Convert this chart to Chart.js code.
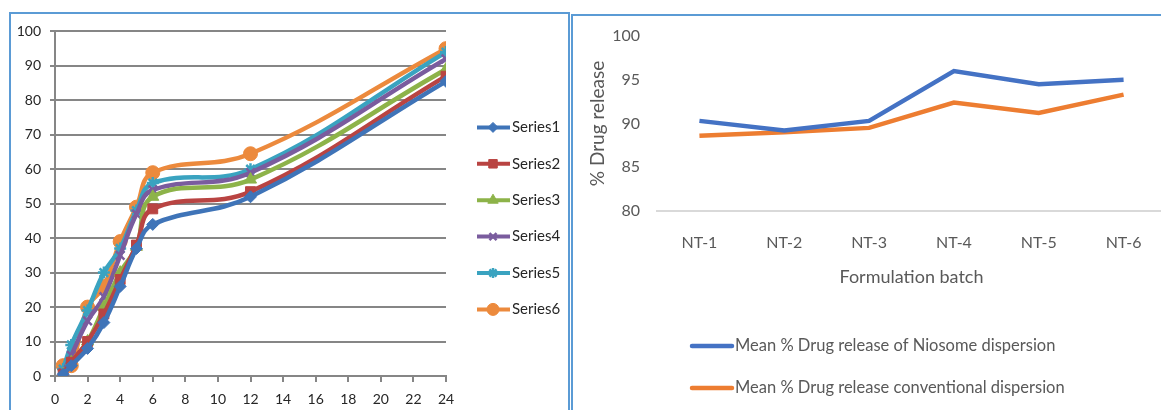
<!DOCTYPE html>
<html>
<head>
<meta charset="utf-8">
<script src="https://cdn.jsdelivr.net/npm/chart.js@4/dist/chart.umd.min.js"></script>
<style>
  body { margin: 0; width: 1161px; height: 410px; overflow: hidden; background: #fff; position: relative; }
  .frame { position: absolute; border: 2px solid #5b9bd5; box-sizing: border-box; }
  #frameL { left: 9px; top: 12px; width: 561px; height: 430px; }
  #frameR { left: 571px; top: 14px; width: 640px; height: 430px; border-right: none; border-bottom: none; }
  canvas { position: absolute; }
  #releaseChart { left: 11px; top: 14px; }
  #batchChart { left: 573px; top: 16px; }
</style>
</head>
<body>
<div class="frame" id="frameL"></div>
<div class="frame" id="frameR"></div>
<canvas id="releaseChart" width="556" height="396"></canvas>
<canvas id="batchChart" width="600" height="394"></canvas>
<script>
// time points (h) and % release for the six series
const times = [0.5, 1, 2, 3, 4, 5, 6, 12, 24];
const series1 = [0.5, 3, 8, 15.5, 26, 37, 44, 52, 85.5];
const series2 = [0.5, 4, 10, 18, 28, 38, 48.5, 53.5, 87];
const series3 = [0.5, 4, 10, 20, 30, 37.5, 52, 57, 89];
const series4 = [1, 6, 16, 23, 35, 47, 54, 59, 92];
const series5 = [2, 9, 19, 30, 37, 48, 56, 60, 94];
const series6 = [3, 3, 20, 26, 39, 49, 59, 64.5, 95];
const seriesNames = ["Series1", "Series2", "Series3", "Series4", "Series5", "Series6"];

// right chart
const batches = ["NT-1", "NT-2", "NT-3", "NT-4", "NT-5", "NT-6"];
const niosome = [90.3, 89.2, 90.3, 96.0, 94.5, 95.0];
const conventional = [88.6, 89.0, 89.5, 92.4, 91.2, 93.3];
const batchLabels = ["Mean % Drug release of Niosome dispersion", "Mean % Drug release conventional dispersion"];

const font = "Lato, 'Open Sans', sans-serif";

const styles = [
  { color: "#3f74b8", shape: "rectRot", r: 6 },
  { color: "#b94442", shape: "rect", r: 7 },
  { color: "#8db349", shape: "triangle", r: 7 },
  { color: "#7a5c9e", shape: "crossRot", r: 6 },
  { color: "#3aa3c0", shape: "star", r: 6 },
  { color: "#ec8a3d", shape: "circle", r: 7 }
];

const allSeries = [series1, series2, series3, series4, series5, series6];

// legend with line + marker, like the office one
const sideLegend = {
  id: "sideLegend",
  afterDraw(chart) {
    const { ctx, chartArea } = chart;
    const x0 = chartArea.right + 31;
    chart.data.datasets.forEach((ds, i) => {
      const y = chartArea.top + 96 + i * 36.4;
      ctx.save();
      ctx.strokeStyle = ds.borderColor;
      ctx.fillStyle = ds.backgroundColor;
      ctx.lineWidth = 4;
      ctx.beginPath();
      ctx.moveTo(x0, y);
      ctx.lineTo(x0 + 33, y);
      ctx.stroke();
      ctx.lineWidth = ds.pointBorderWidth;
      Chart.helpers.drawPoint(ctx, { pointStyle: ds.pointStyle, radius: ds.pointRadius - 1, rotation: 0, borderWidth: ds.pointBorderWidth }, x0 + 16, y);
      ctx.fillStyle = "#262626";
      ctx.font = "15px " + font;
      ctx.textBaseline = "middle";
      ctx.fillText(ds.label, x0 + 35, y);
      ctx.restore();
    });
  }
};

new Chart(document.getElementById("releaseChart"), {
  type: "line",
  data: {
    datasets: allSeries.map((vals, i) => ({
      label: seriesNames[i],
      data: times.map((t, j) => ({ x: t, y: vals[j] })),
      borderColor: styles[i].color,
      backgroundColor: styles[i].color,
      borderWidth: 4.5,
      tension: 0.4,
      pointStyle: styles[i].shape,
      pointRadius: styles[i].r,
      pointBorderWidth: styles[i].shape.startsWith("cross") || styles[i].shape === "star" ? 2.5 : 1
    }))
  },
  options: {
    responsive: false,
    animation: false,
    layout: { padding: { top: 17, right: 121, left: 0, bottom: 0 } },
    plugins: { legend: { display: false }, tooltip: { enabled: false } },
    scales: {
      x: {
        type: "linear",
        min: 0, max: 24,
        afterFit: s => { s.height = 34; },
        ticks: { stepSize: 2, color: "#262626", font: { family: font, size: 14 }, padding: 9 },
        grid: { drawOnChartArea: false, color: "#868686", lineWidth: 2, tickLength: 6 },
        border: { color: "#868686", width: 2 }
      },
      y: {
        min: 0, max: 100,
        afterFit: s => { s.width = 44; },
        ticks: { stepSize: 10, color: "#262626", font: { family: font, size: 14 }, padding: 9 },
        grid: { color: "#868686", lineWidth: 2, tickLength: 5 },
        border: { color: "#868686", width: 2 }
      }
    }
  },
  plugins: [sideLegend]
});

const bottomLegend = {
  id: "bottomLegend",
  afterDraw(chart) {
    const { ctx, chartArea } = chart;
    const x0 = chartArea.left + 35;
    chart.data.datasets.forEach((ds, i) => {
      const y = chartArea.bottom + 135 + i * 42;
      ctx.save();
      ctx.strokeStyle = ds.borderColor;
      ctx.lineWidth = 4.5;
      ctx.lineCap = "round";
      ctx.beginPath();
      ctx.moveTo(x0, y);
      ctx.lineTo(x0 + 40, y);
      ctx.stroke();
      ctx.fillStyle = "#595959";
      ctx.font = "16.5px " + font;
      ctx.textBaseline = "middle";
      ctx.fillText(ds.label, x0 + 43, y);
      ctx.restore();
    });
  }
};

new Chart(document.getElementById("batchChart"), {
  type: "line",
  data: {
    labels: batches,
    datasets: [
      { label: batchLabels[0], data: niosome, borderColor: "#4472c4", backgroundColor: "#4472c4", borderWidth: 4.5, pointRadius: 0, tension: 0 },
      { label: batchLabels[1], data: conventional, borderColor: "#ed7d31", backgroundColor: "#ed7d31", borderWidth: 4.5, pointRadius: 0, tension: 0 }
    ]
  },
  options: {
    responsive: false,
    animation: false,
    layout: { padding: { top: 20, right: 7, left: 0, bottom: 119 } },
    plugins: { legend: { display: false }, tooltip: { enabled: false } },
    scales: {
      x: {
        offset: true,
        afterFit: s => { s.height = 80; },
        ticks: { color: "#595959", font: { family: font, size: 16 }, padding: 14 },
        grid: { display: false },
        border: { color: "#d9d9d9", width: 2 },
        title: { display: true, text: "Formulation batch", color: "#595959", font: { family: font, size: 18 }, padding: { top: 0, bottom: 3 } }
      },
      y: {
        min: 80, max: 100,
        afterFit: s => { s.width = 84; },
        ticks: { stepSize: 5, color: "#595959", font: { family: font, size: 16 }, padding: 9 },
        grid: { display: false },
        border: { display: false },
        title: { display: true, text: "% Drug release", color: "#595959", font: { family: font, size: 19 }, padding: { top: 13, bottom: 0 } }
      }
    }
  },
  plugins: [bottomLegend]
});
</script>
</body>
</html>
